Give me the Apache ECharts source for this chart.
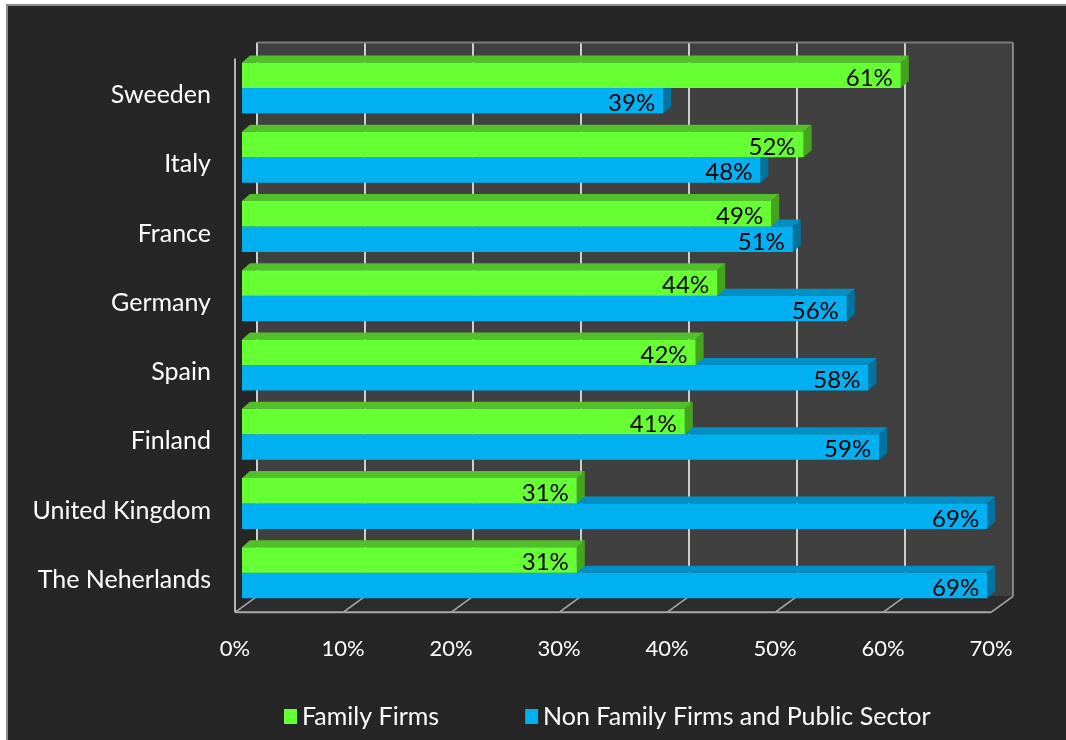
<!DOCTYPE html>
<html>
<head>
<meta charset="utf-8">
<script src="https://cdn.jsdelivr.net/npm/echarts@6/dist/echarts.min.js"></script>
<style>
  html, body { margin: 0; padding: 0; background: #ffffff; }
  #chart { width: 1066px; height: 740px; }
</style>
</head>
<body>
<div id="chart"></div>
<script>
// Share of employees by sector, per country
const categories = ['Sweeden', 'Italy', 'France', 'Germany', 'Spain', 'Finland', 'United Kingdom', 'The Neherlands'];
const familyFirms = [61, 52, 49, 44, 42, 41, 31, 31];
const nonFamilyFirms = [39, 48, 51, 56, 58, 59, 69, 69];
const valueTicks = [0, 10, 20, 30, 40, 50, 60, 70];
const seriesNames = ['Family Firms', 'Non Family Firms and Public Sector'];

// pseudo-3D projection offsets (pixels) relative to the bar front plane
const BACK = [15, -11];
const FRONT = [-7, 5];
const DEPTH = [8, -7];
const FONT = 'Lato';

const chart = echarts.init(document.getElementById('chart'), null, { renderer: 'canvas' });

function renderFrame(params, api) {
  const n = categories.length;
  const band = api.size([0, 1])[1];
  const yTop = api.coord([0, 0])[1] - band / 2;
  const yBot = api.coord([0, n - 1])[1] + band / 2;
  const x0 = api.coord([valueTicks[0], 0])[0];
  const x1 = api.coord([valueTicks[valueTicks.length - 1], 0])[0];
  const children = [];
  // back wall
  children.push({ type: 'rect', shape: { x: x0 + BACK[0], y: yTop + BACK[1], width: x1 - x0, height: yBot - yTop },
    style: { fill: '#404040' } });
  // floor
  children.push({ type: 'polygon', shape: { points: [
      [x0 + FRONT[0], yBot + FRONT[1]], [x1 + FRONT[0], yBot + FRONT[1]],
      [x1 + BACK[0], yBot + BACK[1]], [x0 + BACK[0], yBot + BACK[1]] ] },
    style: { fill: '#2c2c2c' } });
  valueTicks.forEach(function (t, k) {
    const x = api.coord([t, 0])[0];
    const last = k === valueTicks.length - 1;
    // grid line on the back wall
    children.push({ type: 'line', shape: { x1: x + BACK[0], y1: yTop + BACK[1], x2: x + BACK[0], y2: yBot + BACK[1] },
      style: { stroke: last ? '#a0a0a0' : '#cfcfcf', lineWidth: last ? 1.5 : 2 } });
    // tick running across the floor
    children.push({ type: 'line', shape: { x1: x + FRONT[0], y1: yBot + FRONT[1], x2: x + BACK[0], y2: yBot + BACK[1] },
      style: { stroke: '#a8a8a8', lineWidth: 1.5 } });
  });
  // top edge of back wall
  children.push({ type: 'line', shape: { x1: x0 + BACK[0], y1: yTop + BACK[1], x2: x1 + BACK[0], y2: yTop + BACK[1] },
    style: { stroke: '#7a7a7a', lineWidth: 2 } });
  // front edge of the floor
  children.push({ type: 'line', shape: { x1: x0 + FRONT[0], y1: yBot + FRONT[1], x2: x1 + FRONT[0], y2: yBot + FRONT[1] },
    style: { stroke: '#a8a8a8', lineWidth: 2 } });
  // front edge of the left wall
  children.push({ type: 'line', shape: { x1: x0 + FRONT[0], y1: yTop + FRONT[1], x2: x0 + FRONT[0], y2: yBot + FRONT[1] },
    style: { stroke: '#b4b4b4', lineWidth: 2 } });
  return { type: 'group', children: children };
}

function makeBarRenderer(colors, upper) {
  return function (params, api) {
    const v = api.value(0);
    const i = api.value(1);
    const start = api.coord([0, i]);
    const end = api.coord([v, i]);
    const band = api.size([0, 1])[1];
    const barH = band * 0.368;
    const cy = start[1];
    const top = upper ? cy - barH : cy;
    const bottom = upper ? cy : cy + barH;
    const xs = start[0], xe = end[0];
    return { type: 'group', children: [
      { type: 'polygon', shape: { points: [[xs, top], [xs + DEPTH[0], top + DEPTH[1]], [xe + DEPTH[0], top + DEPTH[1]], [xe, top]] },
        style: { fill: colors.top } },
      { type: 'polygon', shape: { points: [[xe, top], [xe + DEPTH[0], top + DEPTH[1]], [xe + DEPTH[0], bottom + DEPTH[1]], [xe, bottom]] },
        style: { fill: colors.side } },
      { type: 'rect', shape: { x: xs, y: top, width: xe - xs, height: bottom - top },
        style: { fill: colors.front } },
      { type: 'text', style: { text: v + '%', x: xe - 8, y: bottom - 10, align: 'right', verticalAlign: 'middle',
        fill: '#000000', fontSize: 24, fontFamily: FONT } }
    ] };
  };
}

const greenColors = { front: '#66FF33', top: '#52C02A', side: '#44A420' };
const blueColors = { front: '#00B0F0', top: '#0090C6', side: '#00739F' };

const option = {
  backgroundColor: 'transparent',
  animation: false,
  graphic: [
    { type: 'rect', z: -10, shape: { x: 7, y: 5, width: 1070, height: 745 },
      style: { fill: '#262626', stroke: '#8c8c8c', lineWidth: 2 } }
  ],
  grid: { left: 242, right: 68, top: 53.4, bottom: 132.7, containLabel: false },
  xAxis: {
    type: 'value', min: 0, max: 70, interval: 10,
    axisLine: { show: false }, axisTick: { show: false }, splitLine: { show: false },
    axisLabel: { formatter: '{value}%', color: '#ffffff', fontSize: 22, fontFamily: FONT,
      margin: 31, padding: [0, 14, 0, 0] }
  },
  yAxis: {
    type: 'category', data: categories, inverse: true,
    axisLine: { show: false }, axisTick: { show: false }, splitLine: { show: false },
    axisLabel: {
      margin: 31,
      formatter: function (v) { return '{c|' + v + '}'; },
      rich: { c: { color: '#ffffff', fontSize: 25, fontFamily: FONT, padding: [14, 0, 0, 0] } }
    }
  },
  legend: {
    data: seriesNames, left: 279, top: 699, icon: 'rect', itemWidth: 13, itemHeight: 15, itemGap: 86,
    textStyle: { color: '#ffffff', fontSize: 25, fontFamily: FONT },
    selectedMode: false
  },
  series: [
    { type: 'custom', name: 'frame', z: 1, renderItem: renderFrame, data: [[0, 0]], encode: { x: 0, y: 1 }, silent: true },
    { type: 'custom', name: seriesNames[1], z: 2, itemStyle: { color: blueColors.front },
      renderItem: makeBarRenderer(blueColors, false),
      data: nonFamilyFirms.map(function (v, i) { return [v, i]; }), encode: { x: 0, y: 1 } },
    { type: 'custom', name: seriesNames[0], z: 3, itemStyle: { color: greenColors.front },
      renderItem: makeBarRenderer(greenColors, true),
      data: familyFirms.map(function (v, i) { return [v, i]; }), encode: { x: 0, y: 1 } }
  ]
};

chart.setOption(option);
</script>
</body>
</html>
